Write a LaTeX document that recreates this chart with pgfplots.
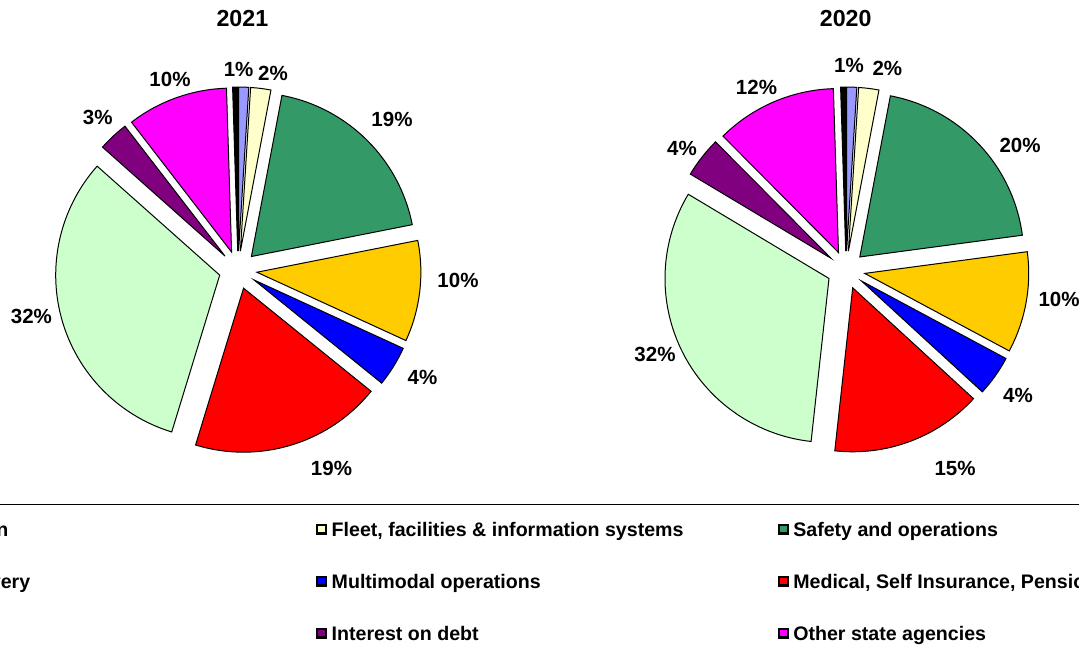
\documentclass[border=0pt]{standalone}
\usepackage{pgfplots}
\usepackage{pgfplotstable}
\pgfplotsset{compat=1.18}
\usepackage{fontspec}
\setmainfont{Liberation Sans}

\definecolor{cPeri}{HTML}{9999FF}
\definecolor{cCream}{HTML}{FFFFCC}
\definecolor{cSea}{HTML}{339966}
\definecolor{cGold}{HTML}{FFCC00}
\definecolor{cBlue}{HTML}{0000FF}
\definecolor{cRed}{HTML}{FF0000}
\definecolor{cMint}{HTML}{CCFFCC}
\definecolor{cPlum}{HTML}{800080}
\definecolor{cMag}{HTML}{FF00FF}
\definecolor{cBlk}{HTML}{000000}

% share (%), colour, label position (px), label
\pgfplotstableread{
val col lx ly lab
1 cPeri 238.6 69 1
2 cCream 273 73.5 2
19 cSea 392 119.5 19
10 cGold 458 280 10
4 cBlue 422.5 377.5 4
19 cRed 331.5 468 19
32 cMint 31.4 316.5 32
3 cPlum 97.8 117 3
10 cMag 170 79 10
0.5 cBlk 0 0 0
}\tblA

\pgfplotstableread{
val col lx ly lab
1 cPeri 849 65 1
2 cCream 887.4 68 2
20 cSea 1020 145 20
10 cGold 1059 299.5 10
4 cBlue 1018 395 4
15 cRed 955 468 15
32 cMint 655 354 32
4 cPlum 682 148 4
12 cMag 756.5 87.5 12
0.5 cBlk 0 0 0
}\tblB

\newcommand\lblfont{\fontsize{10.25pt}{12pt}\selectfont\bfseries}
\newcommand\pieR{82pt}
\newcommand\pieX{19}

% #1 table, #2 cx, #3 cy (px, y down)
\newcommand\drawpie[3]{%
  \pgfplotstablegetrowsof{#1}%
  \pgfmathtruncatemacro\nlast{\pgfplotsretval-1}%
  \xdef\tot{0}%
  \foreach \i in {0,...,\nlast}{%
    \pgfplotstablegetelem{\i}{val}\of{#1}%
    \pgfmathparse{\tot+\pgfplotsretval}\xdef\tot{\pgfmathresult}%
  }%
  \xdef\cum{0}%
  \foreach \i in {0,...,\nlast}{%
    \pgfplotstablegetelem{\i}{val}\of{#1}\let\sval\pgfplotsretval
    \pgfplotstablegetelem{\i}{col}\of{#1}\let\scol\pgfplotsretval
    \pgfplotstablegetelem{\i}{lx}\of{#1}\let\slx\pgfplotsretval
    \pgfplotstablegetelem{\i}{ly}\of{#1}\let\sly\pgfplotsretval
    \pgfplotstablegetelem{\i}{lab}\of{#1}\let\slab\pgfplotsretval
    \pgfmathsetmacro\angA{\cum*(360/\tot)}%
    \pgfmathsetmacro\angB{(\cum+\sval)*(360/\tot)}%
    \pgfmathsetmacro\angM{(\angA+\angB)/2}%
    \pgfmathsetmacro\px{#2+\pieX*sin(\angM)}%
    \pgfmathsetmacro\py{#3-\pieX*cos(\angM)}%
    \pgfmathsetmacro\sa{90-\angA}%
    \pgfmathsetmacro\ea{90-\angB}%
    \edef\temp{\noexpand\filldraw[fill=\scol,draw=black,line width=0.5pt]
      (axis cs:\px,\py) -- ++(\sa:\pieR) arc[start angle=\sa,end angle=\ea,radius=\pieR] -- cycle;}%
    \temp
    \ifnum\slab>0
      \edef\temp{\noexpand\node[font=\noexpand\lblfont,inner sep=0pt] at (axis cs:\slx,\sly) {\slab\noexpand\%};}%
      \temp
    \fi
    \pgfmathparse{\cum+\sval}\xdef\cum{\pgfmathresult}%
  }%
}

\begin{document}
\begin{tikzpicture}
\begin{axis}[
    name=ax,
    at={(0,0)}, anchor=south west,
    x=0.5pt, y=0.5pt,
    xmin=0, xmax=1079, ymin=0, ymax=654,
    y dir=reverse,
    enlargelimits=false,
    hide axis,
    clip mode=global,
    legend columns=3,
    legend cell align=left,
    legend image code/.code={\draw[#1,draw=black,line width=1.1pt] (0pt,-1.2pt) rectangle (4.4pt,3.2pt);},
    legend style={
        draw=black, line width=0.5pt,
        at={(axis cs:-146,503.5)}, anchor=north west,
        inner xsep=0pt, inner ysep=9pt,
        font=\fontsize{9.8pt}{11pt}\selectfont\bfseries,
        nodes={inner sep=0pt, text height=7pt, text depth=2pt},
        row sep=17pt,
        /tikz/every odd column/.style={column sep=2.3pt},
        /tikz/every even column/.style={column sep=0pt},
    },
]
\drawpie{\tblA}{238}{270}
\drawpie{\tblB}{846}{270}

\node[font=\fontsize{11.6pt}{14pt}\selectfont\bfseries] at (axis cs:242.4,18.5) {2021};
\node[font=\fontsize{11.6pt}{14pt}\selectfont\bfseries] at (axis cs:845.7,18.5) {2020};

\addlegendimage{fill=cPeri}\addlegendentry{\makebox[223pt][l]{Administration}}
\addlegendimage{fill=cCream}\addlegendentry{\makebox[223pt][l]{Fleet, facilities \& information systems}}
\addlegendimage{fill=cSea}\addlegendentry{\makebox[223pt][l]{Safety and operations}}
\addlegendimage{fill=cGold}\addlegendentry{\makebox[223pt][l]{Highway delivery}}
\addlegendimage{fill=cBlue}\addlegendentry{\makebox[223pt][l]{Multimodal operations}}
\addlegendimage{fill=cRed}\addlegendentry{\makebox[223pt][l]{Medical, Self Insurance, Pensions}}
\addlegendimage{fill=cMint}\addlegendentry{\makebox[223pt][l]{Maintenance}}
\addlegendimage{fill=cPlum}\addlegendentry{\makebox[223pt][l]{Interest on debt}}
\addlegendimage{fill=cMag}\addlegendentry{\makebox[223pt][l]{Other state agencies}}
\addlegendimage{fill=cBlk}\addlegendentry{\makebox[223pt][l]{Other}}
\end{axis}
\pgfresetboundingbox
\path (ax.south west) rectangle (ax.north east);
\end{tikzpicture}
\end{document}
